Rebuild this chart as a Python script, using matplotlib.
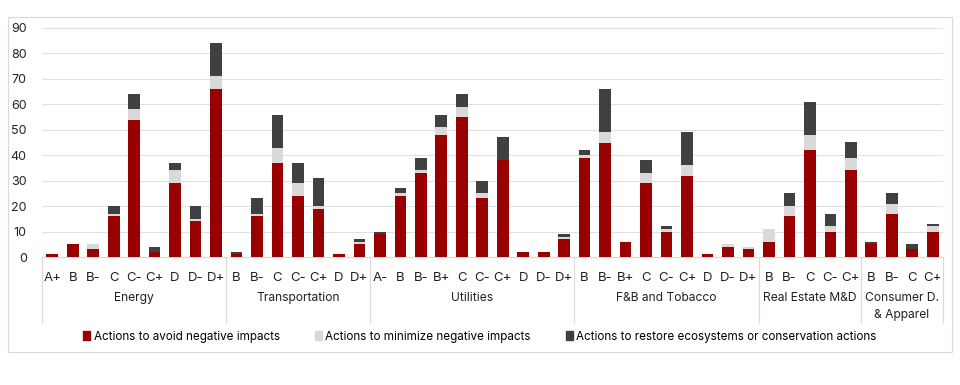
import matplotlib
matplotlib.use("Agg")
import matplotlib.pyplot as plt
from matplotlib.patches import Rectangle, Patch

#
##  Data
#
sectors = ["Energy", "Transportation", "Utilities", "F&B and Tobacco",
           "Real Estate M&D", "Consumer D.\n& Apparel"]

grades = [
    ["A+", "B", "B-", "C", "C-", "C+", "D", "D-", "D+"],
    ["B", "B-", "C", "C-", "C+", "D", "D+"],
    ["A-", "B", "B-", "B+", "C", "C-", "C+", "D", "D-", "D+"],
    ["B", "B-", "B+", "C", "C-", "C+", "D", "D-", "D+"],
    ["B", "B-", "C", "C-", "C+"],
    ["B", "B-", "C", "C+"],
]

avoid = [
    [1, 5, 3, 16, 54, 2, 29, 14, 66],
    [1, 16, 37, 24, 19, 1, 5],
    [9, 24, 33, 48, 55, 23, 38, 2, 2, 7],
    [39, 45, 6, 29, 10, 32, 1, 4, 3],
    [6, 16, 42, 10, 34],
    [5, 17, 3, 10],
]

minimize = [
    [0, 0, 2, 1, 4, 0, 5, 1, 5],
    [0, 1, 6, 5, 1, 0, 1],
    [0, 1, 1, 3, 4, 2, 0, 0, 0, 1],
    [1, 4, 0, 4, 1, 4, 0, 1, 1],
    [5, 4, 6, 2, 5],
    [0, 4, 0, 2],
]

restore = [
    [0, 0, 0, 3, 6, 2, 3, 5, 13],
    [1, 6, 13, 8, 11, 0, 1],
    [1, 2, 5, 5, 5, 5, 9, 0, 0, 1],
    [2, 17, 0, 5, 1, 13, 0, 0, 0],
    [0, 5, 13, 5, 6],
    [1, 4, 2, 1],
]

series_names = ["Actions to avoid negative impacts",
                "Actions to minimize negative impacts",
                "Actions to restore ecosystems or conservation actions"]
colours = ["#990000", "#d9d9d9", "#404040"]

#
##  Flatten the groups into one x axis
#
labels, a, m, r, bounds = [], [], [], [], [0]
for g, av, mi, re in zip(grades, avoid, minimize, restore):
    labels += g
    a += av
    m += mi
    r += re
    bounds.append(bounds[-1] + len(g))
x = list(range(len(labels)))
am = [i + j for i, j in zip(a, m)]

#
##  Plot
#
plt.rcParams["font.family"] = ["Inter", "DejaVu Sans"]
fig = plt.figure(figsize=(9.6, 3.85), dpi=100)
ax = fig.add_axes([42 / 960, 128 / 385, 901 / 960, 229 / 385])

w = 0.57
ax.bar(x, a, w, color=colours[0], zorder=3)
ax.bar(x, m, w, bottom=a, color=colours[1], zorder=3)
ax.bar(x, r, w, bottom=am, color=colours[2], zorder=3)

ax.set_xlim(-0.5, len(labels) - 0.5)
ax.set_ylim(0, 90)
ax.set_yticks(range(0, 91, 10))
ax.yaxis.grid(True, color="#e0e0e0", linewidth=0.8, zorder=0)
for s in ["top", "right", "left"]:
    ax.spines[s].set_visible(False)
ax.spines["bottom"].set_color("#d9d9d9")
ax.tick_params(axis="y", length=0, pad=11, labelsize=9, labelcolor="#222222")
ax.set_xticks(x)
ax.set_xticklabels(labels)
ax.tick_params(axis="x", length=0, pad=11, labelsize=9.5, labelcolor="#222222")

# group labels and separators under the axis
sep_bottom = -(322 - 257) / 229
for i, name in enumerate(sectors):
    mid = (bounds[i] + bounds[i + 1] - 1) / 2
    ax.text(mid, -(292 - 257) / 229, name, transform=ax.get_xaxis_transform(),
            ha="center", va="top", fontsize=8.7, color="#222222", linespacing=1.6)
for b in bounds:
    ax.plot([b - 0.5, b - 0.5], [0, sep_bottom], transform=ax.get_xaxis_transform(),
            color="#d9d9d9", linewidth=0.8, clip_on=False)

handles = [Patch(color=c, label=n) for c, n in zip(colours, series_names)]
fig.legend(handles=handles, loc="center", bbox_to_anchor=(0.5, 1 - 337 / 385),
           ncol=3, frameon=False, fontsize=8.4, handlelength=0.6, handleheight=0.8,
           handletextpad=0.3, columnspacing=3.0)

# outer chart frame
fig.patches.append(Rectangle((8 / 960, 1 - 352 / 385), 944 / 960, 335 / 385,
                             transform=fig.transFigure, fill=False,
                             edgecolor="#d9d9d9", linewidth=0.8))

fig.savefig("out.png", dpi=100)
